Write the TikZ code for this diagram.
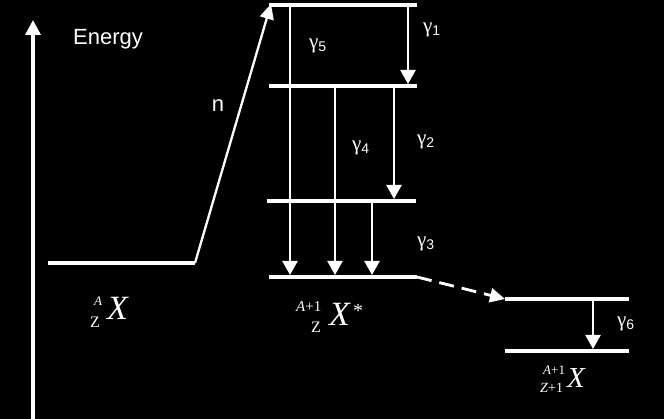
\documentclass[tikz,border=0pt]{standalone}
\usepackage{fontspec}
\setmainfont{Liberation Serif}
\newfontfamily\sansf{Liberation Sans}
\usetikzlibrary{arrows.meta}
\newcommand\fsz[1]{\fontsize{#1}{#1}\selectfont}
\newcommand\gam[1]{{\rmfamily\fsz{21}γ}\raisebox{-3pt}{\fsz{14}#1}}
\begin{document}
\begin{tikzpicture}[x=1pt,y=-1pt,
  lvl/.style={white,line width=4.3pt},
  tr/.style={white,line width=2.3pt,-{Triangle[length=14pt,width=15pt]},shorten >=2pt},
  glab/.style={text=white,font=\sansf\fsz{20},inner sep=0pt,anchor=base west},
  nuc/.style={text=white,inner sep=0pt,anchor=base west}]
\fill[black] (0,0) rectangle (664,419);
\useasboundingbox (0,0) rectangle (664,419);
% energy axis
\coordinate (ax0) at (33,419);
\coordinate (ax1) at (33,20);
\draw[white,line width=3.5pt,-{Triangle[length=15pt,width=15pt]}] (ax0) -- (ax1);
\node[text=white,font=\sansf\fsz{22},inner sep=0pt,anchor=base] (energy) at (108,45) {Energy};
% ground level
\coordinate (g0L) at (48,263);
\coordinate (g0R) at (195,263);
\draw[lvl] (g0L) -- (g0R);
% excited levels
\coordinate (e1L) at (269,5);   \coordinate (e1R) at (417,5);
\coordinate (e2L) at (269,86);  \coordinate (e2R) at (417,86);
\coordinate (e3L) at (267,201); \coordinate (e3R) at (416,201);
\coordinate (e4L) at (269,277); \coordinate (e4R) at (417,277);
\draw[lvl] (e1L) -- (e1R);
\draw[lvl] (e2L) -- (e2R);
\draw[lvl] (e3L) -- (e3R);
\draw[lvl] (e4L) -- (e4R);
% n arrow
\coordinate (ntip) at (271,4);
\draw[white,line width=2.3pt,-{Triangle[length=15pt,width=14pt]}] (g0R) -- (ntip);
\node[text=white,font=\sansf\fsz{22},inner sep=0pt,anchor=base] (nlab) at (218,112) {n};
% gamma transitions
\coordinate (g5a) at (290,5);   \coordinate (g5b) at (290,277);
\coordinate (g1a) at (408,5);   \coordinate (g1b) at (408,86);
\coordinate (g4a) at (335,86);  \coordinate (g4b) at (335,277);
\coordinate (g2a) at (394,86);  \coordinate (g2b) at (394,201);
\coordinate (g3a) at (372,201); \coordinate (g3b) at (372,277);
\draw[tr] (g5a) -- (g5b);
\draw[tr] (g1a) -- (g1b);
\draw[tr] (g4a) -- (g4b);
\draw[tr] (g2a) -- (g2b);
\draw[tr] (g3a) -- (g3b);
\node[glab] (l1) at (423,33) {\gam{1}};
\node[glab] (l5) at (309,49) {\gam{5}};
\node[glab] (l4) at (352,151) {\gam{4}};
\node[glab] (l2) at (417,145) {\gam{2}};
\node[glab] (l3) at (417,247) {\gam{3}};
% daughter levels
\coordinate (d1L) at (505,299); \coordinate (d1R) at (629,299);
\coordinate (d2L) at (505,351); \coordinate (d2R) at (629,351);
\draw[lvl] (d1L) -- (d1R);
\draw[lvl] (d2L) -- (d2R);
\draw[white,line width=2.8pt,dash pattern=on 15pt off 8pt,-{Triangle[length=15pt,width=14pt]}] (e4R) -- (d1L);
\coordinate (g6a) at (593,299); \coordinate (g6b) at (593,351);
\draw[tr] (g6a) -- (g6b);
\node[glab] (l6) at (617,327) {\gam{6}};
% nuclide labels
\node[nuc,font=\fsz{34}\itshape] (x0) at (107,320) {X};
\node[nuc,font=\fsz{13}\itshape] (x0a) at (94,306) {A};
\node[nuc,font=\fsz{16}] (x0z) at (90,328) {Z};
\node[nuc,font=\fsz{34}\itshape] (x1) at (329,326) {X};
\node[nuc,font=\fsz{20}] (x1s) at (353,318) {*};
\node[nuc,font=\fsz{15}] (x1a) at (296,312) {\textit{A}+1};
\node[nuc,font=\fsz{16}] (x1z) at (311,333) {Z};
\node[nuc,font=\fsz{29}\itshape] (x2) at (567,388) {X};
\node[nuc,font=\fsz{13}] (x2a) at (543,375) {\textit{A}+1};
\node[nuc,font=\fsz{14}] (x2z) at (540,393) {\textit{Z}+1};
\end{tikzpicture}
\end{document}
